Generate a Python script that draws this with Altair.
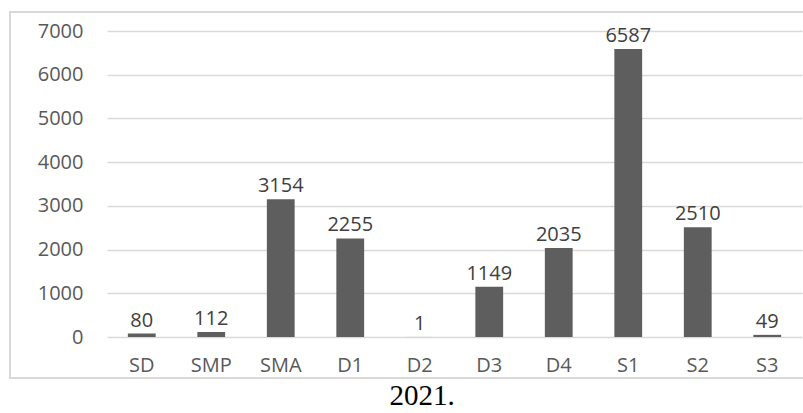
import altair as alt
import pandas as pd

categories = ["SD", "SMP", "SMA", "D1", "D2", "D3", "D4", "S1", "S2", "S3"]
values = [80, 112, 3154, 2255, 1, 1149, 2035, 6587, 2510, 49]
y_ticks = [0, 1000, 2000, 3000, 4000, 5000, 6000, 7000]
caption = "2021."

df = pd.DataFrame({"cat": categories, "val": values})

FONT = "Open Sans"

x = alt.X("cat:N", sort=categories, title=None,
          scale=alt.Scale(paddingInner=0.6, paddingOuter=0.3),
          axis=alt.Axis(labelAngle=0, ticks=False, domain=False, grid=False,
                        labelFont=FONT, labelFontSize=20, labelColor="#595959",
                        labelPadding=18))
y = alt.Y("val:Q", title=None,
          scale=alt.Scale(domain=[0, 7000], nice=False),
          axis=alt.Axis(values=y_ticks, format="d", ticks=False, domain=False,
                        gridColor="#d9d9d9", gridWidth=1.5,
                        labelFont=FONT, labelFontSize=20, labelColor="#595959",
                        labelPadding=24))

bars = alt.Chart(df).mark_bar(color="#5e5e5e").encode(x=x, y=y)
labels = alt.Chart(df).mark_text(font=FONT, fontSize=20, color="#404040",
                                 baseline="bottom", dy=-3).encode(
    x=alt.X("cat:N", sort=categories), y="val:Q", text="val:Q")

frame = alt.Chart(pd.DataFrame({"a": [0]})).mark_rect(
    fill="transparent", stroke="#d9d9d9", strokeWidth=2).encode(
    x=alt.value(-97), x2=alt.value(720), y=alt.value(-19), y2=alt.value(347))

cap = alt.Chart(pd.DataFrame({"t": [caption]})).mark_text(
    font="Liberation Serif", fontSize=29, color="#000000",
    baseline="alphabetic", align="center").encode(
    x=alt.value(315), y=alt.value(374), text="t:N")

chart = alt.layer(frame, bars, labels, cap).properties(
    width=695, height=306,
    padding={"left": 107, "top": 31, "right": 1, "bottom": 76},
    autosize=alt.AutoSizeParams(type="none"),
    background="white",
).configure_view(stroke=None)

chart.save("out.html", embed_options={"renderer": "svg", "actions": False})
